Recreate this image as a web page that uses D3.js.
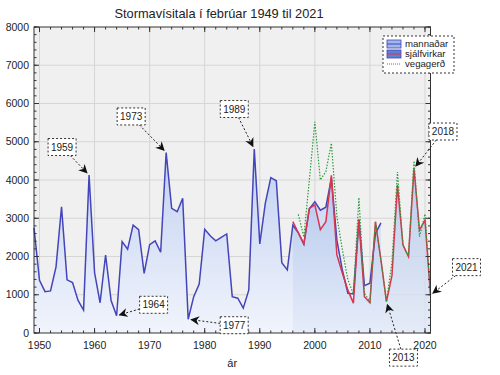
<!DOCTYPE html>
<html><head><meta charset="utf-8">
<script src="https://cdn.jsdelivr.net/npm/d3@7"></script>
<style>body{margin:0;background:#fff;} text{font-family:"Liberation Sans",Arial,sans-serif;fill:#222;}</style>
</head><body>
<svg id="c" width="500" height="375"></svg>
<script>
const title = "Stormavísitala í febrúar 1949 til 2021";
const xLabel = "ár";
const seriesNames = ["mannaðar", "sjálfvirkar", "vegagerð"];
const mannYears = d3.range(1949, 2013);
const mannValues = [2750,1380,1080,1100,1730,3300,1390,1320,850,600,
  4130,1580,790,2040,850,450,2390,2190,2820,2700,
  1560,2310,2410,2110,4720,3260,3170,3520,360,950,
  1280,2710,2540,2410,2500,2590,950,910,650,1120,
  4810,2330,3390,4060,3980,1840,1650,2820,2620,2320,
  3250,3430,3210,3290,4050,2430,1640,1040,1020,2960,
  1240,1300,2600,2880];
const sjalfYears = d3.range(1996, 2022);
const sjalfValues = [2910,2620,2330,3260,3350,2700,2910,4120,2040,1560,
  1120,780,2970,950,790,2910,1910,820,1500,3870,
  2300,2000,4300,2690,2950,990];
const vegaYears = d3.range(1997, 2022);
const vegaValues = [3100,2510,4000,5520,4000,4220,4960,3050,2170,1390,
  1020,3540,1040,820,2910,1910,820,1850,4210,2300,
  2000,4500,2520,3110,990];
const xTicks = [1950,1960,1970,1980,1990,2000,2010,2020];
const yTicks = [0,1000,2000,3000,4000,5000,6000,7000,8000];
const annotYears = [1959,1964,1973,1977,1989,2013,2018,2021];
const annotOffsets = [[-27,-28],[37,-11],[-35,-36],[46,6],[-20,-40],[17,56],[29,-37],[36,-28]];

const svg = d3.select("#c");
const L=34, R=430.5, T=27, B=333;
const x = d3.scaleLinear().domain([1949,2021]).range([L,R]);
const y = d3.scaleLinear().domain([0,8000]).range([B,T]);

const defs = svg.append("defs");
function grad(id, c0, c1){
  const g = defs.append("linearGradient").attr("id",id).attr("gradientUnits","userSpaceOnUse")
    .attr("x1",0).attr("x2",0).attr("y1",B).attr("y2",T);
  g.append("stop").attr("offset",0).attr("stop-color",c0);
  g.append("stop").attr("offset",1).attr("stop-color",c1);
}
grad("gm","#f1f4fc","#a0b9e8");
grad("gs","#e2eaf9","#7a9bdb");
defs.append("marker").attr("id","arr").attr("viewBox","0 0 10 10").attr("refX",9).attr("refY",5)
  .attr("markerWidth",9).attr("markerHeight",9).attr("markerUnits","userSpaceOnUse").attr("orient","auto")
  .append("path").attr("d","M0,0 L10,5 L0,10 L3,5 Z").attr("fill","#111");

svg.append("rect").attr("x",L).attr("y",T).attr("width",R-L).attr("height",B-T).attr("fill","#f0f0f0");
svg.append("g").selectAll("line").data(yTicks.slice(1,-1)).join("line")
  .attr("x1",L).attr("x2",R).attr("y1",d=>y(d)).attr("y2",d=>y(d)).attr("stroke","#d6d6d6");
svg.append("g").selectAll("line").data(xTicks).join("line")
  .attr("y1",T).attr("y2",B).attr("x1",d=>x(d)).attr("x2",d=>x(d)).attr("stroke","#d6d6d6");

const mann = mannYears.map((yr,i)=>({yr,v:mannValues[i]}));
const sjalf = sjalfYears.map((yr,i)=>({yr,v:sjalfValues[i]}));
const vega = vegaYears.map((yr,i)=>({yr,v:vegaValues[i]}));
const area = d3.area().x(d=>x(d.yr)).y0(B).y1(d=>y(d.v));
const line = d3.line().x(d=>x(d.yr)).y(d=>y(d.v));

svg.append("path").datum(mann).attr("d",area).attr("fill","url(#gm)");
svg.append("path").datum(sjalf).attr("d",area).attr("fill","url(#gs)").attr("fill-opacity",0.75);
svg.append("path").datum(mann).attr("d",line).attr("fill","none").attr("stroke","#4444bb").attr("stroke-width",1.5);
svg.append("path").datum(sjalf).attr("d",line).attr("fill","none").attr("stroke","#d8354f").attr("stroke-width",1.5);
svg.append("path").datum(vega).attr("d",line).attr("fill","none").attr("stroke","#2e9a3a").attr("stroke-width",1.2).attr("stroke-dasharray","1.5,1.5");

const ax = svg.append("g").attr("stroke","#333").attr("stroke-width",1);
ax.append("rect").attr("x",L).attr("y",T).attr("width",R-L).attr("height",B-T).attr("fill","none").attr("stroke","#333");
const xMinor = d3.range(1950,2021,2);
const yMinor = d3.range(0,8001,200);
[[B,-1],[T,1]].forEach(([yy,s])=>{
  ax.selectAll(null).data(xMinor).join("line").attr("x1",d=>x(d)).attr("x2",d=>x(d)).attr("y1",yy).attr("y2",yy+s*2.5);
  ax.selectAll(null).data(xTicks).join("line").attr("x1",d=>x(d)).attr("x2",d=>x(d)).attr("y1",yy).attr("y2",yy+s*5);
});
[[L,1],[R,-1]].forEach(([xx,s])=>{
  ax.selectAll(null).data(yMinor).join("line").attr("y1",d=>y(d)).attr("y2",d=>y(d)).attr("x1",xx).attr("x2",xx+s*2.5);
  ax.selectAll(null).data(yTicks).join("line").attr("y1",d=>y(d)).attr("y2",d=>y(d)).attr("x1",xx).attr("x2",xx+s*5);
});
svg.append("g").selectAll("text").data(yTicks).join("text").attr("x",L-5).attr("y",d=>y(d)+3.5)
  .attr("text-anchor","end").attr("font-size",10.5).text(d=>d);
svg.append("g").selectAll("text").data(xTicks).join("text").attr("x",d=>x(d)).attr("y",B+16)
  .attr("text-anchor","middle").attr("font-size",10.5).text(d=>d);
svg.append("text").attr("x",(L+R)/2).attr("y",367).attr("text-anchor","middle").attr("font-size",11).text(xLabel);
svg.append("text").attr("x",219).attr("y",18).attr("text-anchor","middle").attr("font-size",12.8).text(title);

const lg = svg.append("g");
lg.append("rect").attr("x",383).attr("y",36).attr("width",71).attr("height",37).attr("fill","#fff")
  .attr("stroke","#333").attr("stroke-dasharray","2,2");
const sw = [{f:"#9fb8ea",l:"#4444bb"},{f:"#5f80d0",l:"#d8354f"},{f:null,l:"#2e9a3a"}];
seriesNames.forEach((n,i)=>{
  const yy = 44+i*10;
  if(sw[i].f){
    lg.append("rect").attr("x",387).attr("y",yy-4).attr("width",14).attr("height",8).attr("fill",sw[i].f).attr("stroke","#4444bb").attr("stroke-width",0.8);
    lg.append("line").attr("x1",387).attr("x2",401).attr("y1",yy).attr("y2",yy).attr("stroke",sw[i].l).attr("stroke-width",1);
  } else {
    lg.append("line").attr("x1",387).attr("x2",401).attr("y1",yy).attr("y2",yy).attr("stroke",sw[i].l).attr("stroke-dasharray","1,1");
  }
  lg.append("text").attr("x",405).attr("y",yy+3.3).attr("font-size",9.6).text(n);
});

const valOf = yr => { const s = yr>=2013 ? sjalf : mann; return s.find(d=>d.yr===yr).v; };
const an = svg.append("g");
annotYears.forEach((yr,i)=>{
  const tx = x(yr), ty = y(valOf(yr));
  const cx = tx+annotOffsets[i][0], cy = ty+annotOffsets[i][1];
  const w=14, h=8.5;
  const dx = tx-cx, dy = ty-cy;
  const s = Math.min(w/Math.abs(dx||1e-6), h/Math.abs(dy||1e-6));
  const sx = cx+s*dx, sy = cy+s*dy;
  const len = Math.hypot(dx,dy);
  const ex = tx - dx/len*3, ey = ty - dy/len*3;
  an.append("line").attr("x1",sx).attr("y1",sy).attr("x2",ex).attr("y2",ey)
    .attr("stroke","#222").attr("stroke-width",1).attr("stroke-dasharray","2,2").attr("marker-end","url(#arr)");
  an.append("rect").attr("x",cx-w).attr("y",cy-h).attr("width",2*w).attr("height",2*h)
    .attr("fill","#fff").attr("stroke","#333").attr("stroke-dasharray","2,2");
  an.append("text").attr("x",cx).attr("y",cy+3.5).attr("text-anchor","middle").attr("font-size",10).text(yr);
});
</script>
</body></html>
